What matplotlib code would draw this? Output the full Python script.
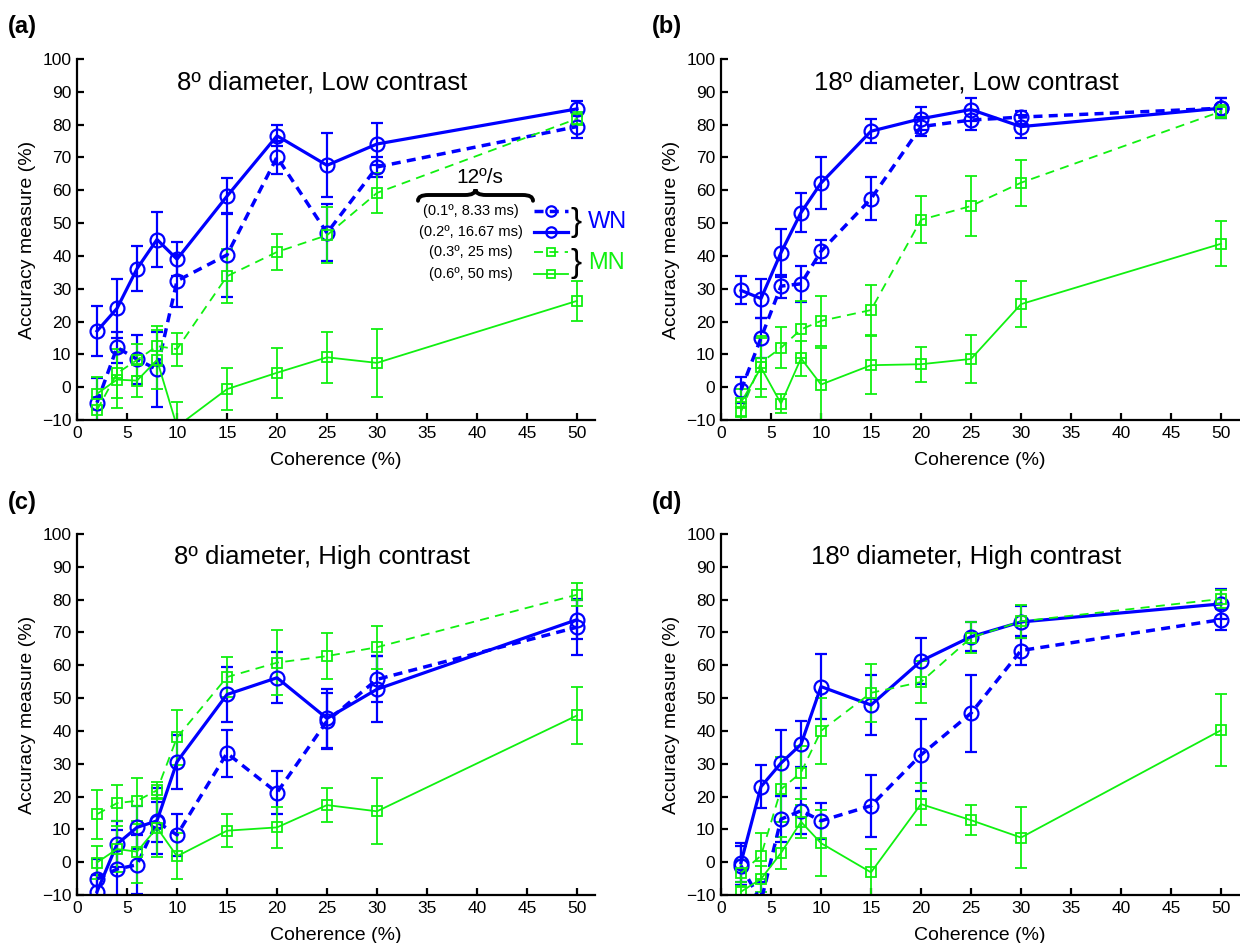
import matplotlib
matplotlib.use("Agg")
import matplotlib.pyplot as plt
from matplotlib.path import Path
from matplotlib.patches import PathPatch

plt.rcParams['font.family'] = ['Liberation Sans', 'DejaVu Sans']

# coherence levels (%)
coherence = [2, 4, 6, 8, 10, 15, 20, 25, 30, 50]

# (a) 8º diameter, low contrast
a_wn01 = [-4.7, 12.1, 8.5, 5.4, 32.4, 40.3, 70.1, 47.0, 67.1, 79.4]
a_wn01_err = [7.4, 4.7, 7.5, 11.5, 8, 12.7, 5, 8.7, 3, 3.4]
a_wn02 = [17.1, 24.0, 36.1, 45.0, 39.0, 58.2, 76.6, 67.6, 74.1, 84.8]
a_wn02_err = [7.6, 9, 6.8, 8.4, 5.2, 5.5, 3.2, 9.7, 6.3, 2.3]
a_mn03 = [-7, 4.2, 8.3, 12.5, 11.6, 33.8, 41.2, 46.3, 59.2, 81.8]
a_mn03_err = [4, 7.5, 5, 6, 5, 8.2, 5.4, 8.5, 6, 2]
a_mn06 = [-2, 2.3, 2.0, 8.3, -12, -0.6, 4.4, 9.1, 7.4, 26.3]
a_mn06_err = [5, 8.5, 5, 9, 7.5, 6.3, 7.6, 7.7, 10.4, 6.1]

# (b) 18º diameter, low contrast
b_wn01 = [-0.9, 15, 30.8, 31.5, 41.4, 57.4, 79.4, 81.4, 82.3, 85]
b_wn01_err = [4, 6, 3.5, 5.5, 3.6, 6.5, 3, 3, 2, 3]
b_wn02 = [29.5, 27, 41, 53.2, 62.2, 78, 81.8, 84.6, 79.4, 85]
b_wn02_err = [4.3, 6, 7.3, 6, 8, 3.7, 3.5, 3.6, 3.6, 3]
b_mn03 = [-7.5, 7.5, 12, 17.6, 20.2, 23.5, 51, 55.2, 62.3, 84]
b_mn03_err = [3, 8, 6.3, 8.7, 7.7, 7.7, 7.2, 9.2, 7, 2]
b_mn06 = [-4.7, 6, -5, 8.8, 0.8, 6.7, 7, 8.6, 25.3, 43.7]
b_mn06_err = [4, 9, 3, 5.3, 11, 8.8, 5.3, 7.3, 7, 6.8]

# (c) 8º diameter, high contrast
c_wn01 = [-5.1, -2.1, -0.8, 12.3, 8.3, 33.2, 21.2, 43, 55.7, 71.6]
c_wn01_err = [6, 12, 9, 6, 6.5, 7.2, 6.5, 8.5, 7, 8.5]
c_wn02 = [-9.0, 5.5, 10.6, 12.6, 30.6, 51.1, 56.2, 43.8, 52.7, 73.9]
c_wn02_err = [5, 7, 6.5, 10, 8.3, 8.4, 7.8, 9, 10, 6]
c_mn03 = [14.6, 18, 18.7, 21.9, 38, 56.4, 60.8, 62.8, 65.5, 81.5]
c_mn03_err = [7.5, 5.5, 7, 2.5, 8.5, 6, 10, 7, 6.5, 3.5]
c_mn06 = [-0.1, 4, 3.2, 10.5, 1.8, 9.6, 10.6, 17.4, 15.5, 44.7]
c_mn06_err = [5, 7, 9.5, 9, 7, 5, 6.2, 5.2, 10, 8.6]

# (d) 18º diameter, high contrast
d_wn01 = [-1.1, -12, 13.1, 15.7, 12.6, 17.2, 32.7, 45.4, 64.5, 73.9]
d_wn01_err = [6, 6, 7, 7, 5.5, 9.5, 11, 11.7, 4.3, 3.2]
d_wn02 = [-0.1, 23, 30.2, 35.9, 53.5, 47.9, 61.3, 68.7, 73.2, 78.7]
d_wn02_err = [6, 6.5, 10, 7, 10, 9, 7, 4.5, 5, 4.5]
d_mn03 = [-3.3, 2, 22.2, 27.3, 40, 51.6, 54.9, 68.4, 73.4, 80.2]
d_mn03_err = [4, 7, 10, 8, 10, 8.8, 6.5, 4.8, 5, 2.8]
d_mn06 = [-9, -5.1, 2.8, 12.3, 5.8, -3.1, 17.7, 12.8, 7.5, 40.2]
d_mn06_err = [3, 4, 5, 5, 10, 7, 6.5, 4.6, 9.4, 11]

panel_letters = ['(a)', '(b)', '(c)', '(d)']
panel_titles = ['8º diameter, Low contrast', '18º diameter, Low contrast',
                '8º diameter, High contrast', '18º diameter, High contrast']
legend_labels = ['(0.1º, 8.33 ms)', '(0.2º, 16.67 ms)', '(0.3º, 25 ms)', '(0.6º, 50 ms)']

BLUE = '#0000ff'
GREEN = '#10f010'

styles = [
    dict(color=BLUE, ls=(0, (2.6, 1.8)), lw=2.5, marker='o', ms=10, mew=1.6, elw=1.6),
    dict(color=BLUE, ls='-', lw=2.3, marker='o', ms=10, mew=1.6, elw=1.6),
    dict(color=GREEN, ls=(0, (5, 3.5)), lw=1.3, marker='s', ms=7.5, mew=1.3, elw=1.3),
    dict(color=GREEN, ls='-', lw=1.3, marker='s', ms=7.5, mew=1.3, elw=1.3),
]

panels = [
    [(a_wn01, a_wn01_err), (a_wn02, a_wn02_err), (a_mn03, a_mn03_err), (a_mn06, a_mn06_err)],
    [(b_wn01, b_wn01_err), (b_wn02, b_wn02_err), (b_mn03, b_mn03_err), (b_mn06, b_mn06_err)],
    [(c_wn01, c_wn01_err), (c_wn02, c_wn02_err), (c_mn03, c_mn03_err), (c_mn06, c_mn06_err)],
    [(d_wn01, d_wn01_err), (d_wn02, d_wn02_err), (d_mn03, d_mn03_err), (d_mn06, d_mn06_err)],
]

W, H = 1240, 943
fig = plt.figure(figsize=(W / 100, H / 100), dpi=100)

# axes boxes in pixels: left, top of y=100 (10 px per coherence unit)
XMAX = 51.8
boxes = [(77, 59), (721, 59), (77, 534), (721, 534)]
ax_w, ax_h = 518, 361


def draw_brace(ax, x0, x1, y, h):
    # horizontal curly brace, cusp pointing up (axes coords)
    xm = (x0 + x1) / 2
    q = 0.02
    verts = [(x0, y - h), (x0, y), (x0 + q, y),
             (xm - q, y),
             (xm, y), (xm, y + h),
             (xm, y), (xm + q, y),
             (x1 - q, y),
             (x1, y), (x1, y - h)]
    codes = [Path.MOVETO, Path.CURVE3, Path.CURVE3,
             Path.LINETO,
             Path.CURVE3, Path.CURVE3,
             Path.CURVE3, Path.CURVE3,
             Path.LINETO,
             Path.CURVE3, Path.CURVE3]
    ax.add_patch(PathPatch(Path(verts, codes), fill=False, lw=2.8, ec='black',
                           transform=ax.transAxes, clip_on=False, capstyle='round'))


for i, (series, (px, py)) in enumerate(zip(panels, boxes)):
    ax = fig.add_axes([px / W, 1 - (py + ax_h) / H, ax_w / W, ax_h / H])
    for (vals, errs), st in zip(series, styles):
        ax.errorbar(coherence, vals, yerr=errs, color=st['color'], ls=st['ls'], lw=st['lw'],
                    marker=st['marker'], ms=st['ms'], mfc='none', mec=st['color'], mew=st['mew'],
                    elinewidth=st['elw'], capsize=4, capthick=st['elw'])
    ax.set_xlim(0, XMAX)
    ax.set_ylim(-10, 100)
    ax.set_xticks(range(0, 51, 5))
    ax.set_yticks(range(-10, 101, 10))
    for s in ['top', 'right']:
        ax.spines[s].set_visible(False)
    for s in ['left', 'bottom']:
        ax.spines[s].set_linewidth(1.6)
    ax.tick_params(direction='in', length=5, width=1.6, labelsize=12.5, pad=4)
    ax.set_xlabel('Coherence (%)', fontsize=14, labelpad=8)
    ax.set_ylabel('Accuracy measure (%)', fontsize=14, labelpad=4)
    ax.text(24.5 / XMAX, 0.935, panel_titles[i], transform=ax.transAxes, ha='center',
            va='center', fontsize=18.5)
    fig.text((px - 69) / W, 1 - (py - 32) / H, panel_letters[i], fontsize=17,
             fontweight='bold', ha='left', va='center')

    if i == 0:
        # hand-made legend, positions in pixels relative to the axes box
        def fx(x):
            return (x - px) / ax_w

        def fy(y):
            return 1 - (y - py) / ax_h

        ax.text(fx(480), fy(177), '12º/s', transform=ax.transAxes, ha='center',
                va='center', fontsize=15)
        draw_brace(ax, fx(418), fx(533), fy(195), 0.016)
        rows = [211, 232, 252, 274]
        for lab, yy, st in zip(legend_labels, rows, styles):
            ax.text(fx(471), fy(yy), lab, transform=ax.transAxes, ha='center', va='center',
                    fontsize=10.5)
            ax.plot([fx(534), fx(568)], [fy(yy), fy(yy)], transform=ax.transAxes,
                    color=st['color'], ls=st['ls'], lw=st['lw'], clip_on=False)
            ax.plot([fx(551)], [fy(yy)], transform=ax.transAxes, color=st['color'],
                    marker=st['marker'], ms=st['ms'] * 0.75, mfc='none', mew=st['mew'],
                    clip_on=False)
        ax.text(fx(576), fy(222), '}', transform=ax.transAxes, ha='center', va='center',
                fontsize=24)
        ax.text(fx(576), fy(263), '}', transform=ax.transAxes, ha='center', va='center',
                fontsize=24)
        ax.text(fx(588), fy(222), 'WN', transform=ax.transAxes, ha='left', va='center',
                fontsize=17, color=BLUE)
        ax.text(fx(588), fy(263), 'MN', transform=ax.transAxes, ha='left', va='center',
                fontsize=17, color=GREEN)

fig.savefig('out.png', dpi=100)
